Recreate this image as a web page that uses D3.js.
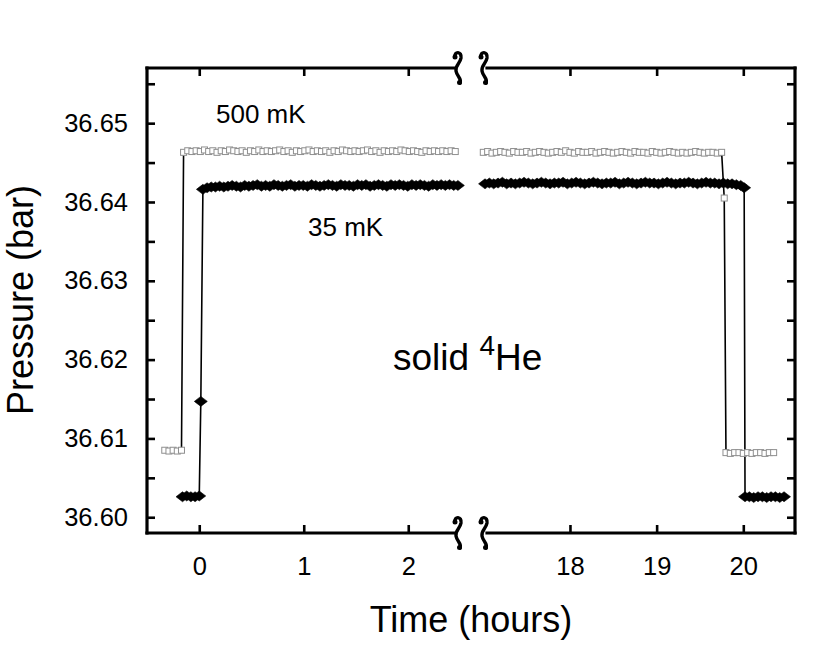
<!DOCTYPE html>
<html><head><meta charset="utf-8">
<script src="https://cdn.jsdelivr.net/npm/d3@7"></script>
<style>
body{margin:0;background:#fff;}
svg{display:block;}
text{font-family:"Liberation Sans",Arial,Helvetica,sans-serif;fill:#000;}
</style>
</head><body>
<svg id="chart" width="830" height="662"></svg>
<script>
// ---------------- data ----------------
const xTicksLeft = [0, 1, 2];
const xTicksRight = [18, 19, 20];
const yTicksMajor = [36.60, 36.61, 36.62, 36.63, 36.64, 36.65];
const yTicksMinor = [36.605, 36.615, 36.625, 36.635, 36.645, 36.655];

// 500 mK, before the break (time in hours, pressure in bar)
const t500L = [-0.33,-0.29,-0.25,-0.21,-0.17,
  -0.15,-0.11,-0.07,-0.03,0.01,0.05,0.09,0.13,0.17,0.21,0.25,0.29,0.33,0.37,0.41,0.45,0.49,0.53,0.57,0.61,
  0.65,0.69,0.73,0.77,0.81,0.85,0.89,0.93,0.97,1.01,1.05,1.09,1.13,1.17,1.21,1.25,1.29,1.33,1.37,1.41,
  1.45,1.49,1.53,1.57,1.61,1.65,1.69,1.73,1.77,1.81,1.85,1.89,1.93,1.97,2.01,2.05,2.09,2.13,2.17,2.21,
  2.25,2.29,2.33,2.37,2.41,2.45];
const p500L = [36.6085,36.6084,36.6085,36.6084,36.6085,
  36.6463,36.6465,36.6464,36.6465,36.6464,36.6466,36.6464,36.6465,36.6463,36.6465,
  36.6464,36.6466,36.6465,36.6464,36.6465,36.6463,36.6465,36.6464,36.6466,36.6464,
  36.6465,36.6464,36.6465,36.6466,36.6464,36.6465,36.6463,36.6465,36.6464,36.6465,
  36.6466,36.6464,36.6465,36.6464,36.6465,36.6463,36.6465,36.6464,36.6466,36.6465,
  36.6464,36.6465,36.6464,36.6465,36.6466,36.6464,36.6465,36.6463,36.6465,36.6464,
  36.6465,36.6464,36.6466,36.6465,36.6464,36.6465,36.6464,36.6463,36.6465,36.6464,
  36.6465,36.6464,36.6465,36.6464,36.6465,36.6464];

// 500 mK, after the break
const t500R = [17.00,17.05,17.10,17.15,17.20,17.25,17.30,17.35,17.40,17.45,17.50,17.55,17.60,17.65,17.70,
  17.75,17.80,17.85,17.90,17.95,18.00,18.05,18.10,18.15,18.20,18.25,18.30,18.35,18.40,18.45,18.50,18.55,
  18.60,18.65,18.70,18.75,18.80,18.85,18.90,18.95,19.00,19.05,19.10,19.15,19.20,19.25,19.30,19.35,19.40,
  19.45,19.50,19.55,19.60,19.65,19.70,19.75,
  19.78,
  19.80,19.85,19.90,19.95,20.00,20.05,20.10,20.15,20.20,20.25,20.30,20.35];
const p500R = [36.6463,36.6464,36.6462,36.6463,36.6464,36.6463,36.6462,36.6464,36.6463,36.6463,
  36.6464,36.6462,36.6463,36.6464,36.6463,36.6462,36.6463,36.6464,36.6463,36.6465,
  36.6463,36.6462,36.6464,36.6463,36.6463,36.6464,36.6462,36.6463,36.6464,36.6463,
  36.6462,36.6463,36.6464,36.6463,36.6462,36.6464,36.6463,36.6463,36.6462,36.6464,
  36.6463,36.6462,36.6463,36.6464,36.6463,36.6462,36.6463,36.6462,36.6463,36.6464,
  36.6463,36.6462,36.6463,36.6463,36.6462,36.6463,
  36.6405,
  36.6082,36.6081,36.6082,36.6082,36.6081,36.6082,36.6081,36.6082,36.6082,36.6081,36.6082,36.6082];

// 35 mK, before the break
const t35L = [-0.16,-0.12,-0.08,-0.04,0.00,
  0.015,
  0.035,0.075,0.115,0.155,0.195,0.235,0.275,0.315,0.355,0.395,0.435,0.475,0.515,0.555,0.595,0.635,0.675,
  0.715,0.755,0.795,0.835,0.875,0.915,0.955,0.995,1.035,1.075,1.115,1.155,1.195,1.235,1.275,1.315,1.355,
  1.395,1.435,1.475,1.515,1.555,1.595,1.635,1.675,1.715,1.755,1.795,1.835,1.875,1.915,1.955,1.995,2.035,
  2.075,2.115,2.155,2.195,2.235,2.275,2.315,2.355,2.395,2.435,2.475];
const p35L = [36.6026,36.6027,36.6026,36.6026,36.6027,
  36.6147,
  36.6416,36.6418,36.6419,36.6419,36.6420,36.6419,36.6420,36.6421,36.6420,36.6419,
  36.6421,36.6420,36.6421,36.6422,36.6420,36.6421,36.6420,36.6422,36.6421,36.6420,
  36.6421,36.6422,36.6420,36.6421,36.6421,36.6420,36.6422,36.6421,36.6420,36.6421,
  36.6422,36.6421,36.6420,36.6422,36.6421,36.6421,36.6420,36.6422,36.6421,36.6422,
  36.6420,36.6421,36.6422,36.6421,36.6420,36.6422,36.6421,36.6422,36.6421,36.6420,
  36.6422,36.6421,36.6422,36.6421,36.6420,36.6422,36.6421,36.6422,36.6421,36.6422,
  36.6421,36.6421];

// 35 mK, after the break
const t35R = [17.02,17.07,17.12,17.17,17.22,17.27,17.32,17.37,17.42,17.47,17.52,17.57,17.62,17.67,17.72,
  17.77,17.82,17.87,17.92,17.97,18.02,18.07,18.12,18.17,18.22,18.27,18.32,18.37,18.42,18.47,18.52,18.57,
  18.62,18.67,18.72,18.77,18.82,18.87,18.92,18.97,19.02,19.07,19.12,19.17,19.22,19.27,19.32,19.37,19.42,
  19.47,19.52,19.57,19.62,19.67,19.72,19.77,19.82,19.87,19.92,19.97,
  20.01,
  20.02,20.07,20.12,20.17,20.22,20.27,20.32,20.37,20.42,20.47];
const p35R = [36.6423,36.6424,36.6423,36.6424,36.6425,36.6423,36.6424,36.6423,36.6424,36.6425,
  36.6424,36.6423,36.6424,36.6425,36.6424,36.6423,36.6424,36.6424,36.6425,36.6423,
  36.6424,36.6425,36.6424,36.6423,36.6424,36.6425,36.6424,36.6423,36.6424,36.6424,
  36.6425,36.6423,36.6424,36.6425,36.6424,36.6423,36.6424,36.6425,36.6424,36.6424,
  36.6423,36.6424,36.6425,36.6424,36.6423,36.6424,36.6424,36.6425,36.6424,36.6423,
  36.6424,36.6425,36.6424,36.6424,36.6423,36.6424,36.6423,36.6423,36.6422,36.6421,
  36.6418,
  36.6026,36.6026,36.6025,36.6026,36.6026,36.6025,36.6026,36.6026,36.6025,36.6026];

// ---------------- layout ----------------
const X0 = 147, X1 = 795, Y0 = 68, Y1 = 533;
const BREAK_A = 458, BREAK_B = 484;

const svg = d3.select('#chart');

const xL = d3.scaleLinear().domain([-0.5, 2.48]).range([X0, 458.4]);
const xR = d3.scaleLinear().domain([17, 20.6]).range([483.3, 795.3]);
const y = d3.scaleLinear().domain([36.598, 36.657]).range([Y1, Y0]);

function styleAxis(g) {
  g.select('.domain').remove();
  g.selectAll('.tick line').attr('stroke', '#000').attr('stroke-width', 2.6);
  g.selectAll('.tick text').attr('font-size', 25.5).attr('font-family', '"Liberation Sans",Arial,sans-serif').attr('fill', '#000');
}

// y axes (left with labels, right without)
svg.append('g').attr('transform', `translate(${X0},0)`)
  .call(d3.axisLeft(y).tickValues(yTicksMajor).tickFormat(d3.format('.2f')).tickSize(-8).tickPadding(19))
  .call(styleAxis);
svg.append('g').attr('transform', `translate(${X0},0)`)
  .call(d3.axisLeft(y).tickValues(yTicksMinor).tickFormat('').tickSize(-8))
  .call(styleAxis);
svg.append('g').attr('transform', `translate(${X1},0)`)
  .call(d3.axisRight(y).tickValues(yTicksMajor.concat(yTicksMinor)).tickFormat('').tickSize(-8))
  .call(styleAxis);

// x axes (bottom with labels, top without)
[[xL, xTicksLeft], [xR, xTicksRight]].forEach(([sc, tv]) => {
  svg.append('g').attr('transform', `translate(0,${Y1})`)
    .call(d3.axisBottom(sc).tickValues(tv).tickFormat(d3.format('d')).tickSize(-8).tickPadding(24))
    .call(styleAxis);
  svg.append('g').attr('transform', `translate(0,${Y0})`)
    .call(d3.axisTop(sc).tickValues(tv).tickFormat('').tickSize(-8))
    .call(styleAxis);
});

// frame with axis breaks
const frame = svg.append('g').attr('stroke', '#000').attr('stroke-width', 3.2).attr('fill', 'none')
  .attr('stroke-linecap', 'square');
frame.append('line').attr('x1', X0).attr('x2', X0).attr('y1', Y0).attr('y2', Y1);
frame.append('line').attr('x1', X1).attr('x2', X1).attr('y1', Y0).attr('y2', Y1);
[Y0, Y1].forEach(yy => {
  frame.append('line').attr('x1', X0).attr('x2', BREAK_A - 3).attr('y1', yy).attr('y2', yy);
  frame.append('line').attr('x1', BREAK_B + 3).attr('x2', X1).attr('y1', yy).attr('y2', yy);
});
// break glyph: an elongated S with blobbed ends
const squig = 'M-3,-11 C-4,-17 4,-17 3,-10 C2,-4 -3,-3 -2,3 C-1,9 4,10 2,15';
[BREAK_A, BREAK_B].forEach(bx => {
  [Y0, Y1].forEach(by => {
    const g = svg.append('g').attr('transform', `translate(${bx},${by})`);
    g.append('path').attr('d', squig).attr('fill', 'none').attr('stroke', '#000')
      .attr('stroke-width', 3.4).attr('stroke-linecap', 'round');
    g.append('circle').attr('cx', -3).attr('cy', -11).attr('r', 2.5).attr('fill', '#000');
    g.append('circle').attr('cx', 1.5).attr('cy', 14.5).attr('r', 2.5).attr('fill', '#000');
  });
});

// ---------------- data marks ----------------
const series = [
  {t: t500L, p: p500L, x: xL, kind: 'sq'},
  {t: t500R, p: p500R, x: xR, kind: 'sq'},
  {t: t35L, p: p35L, x: xL, kind: 'di'},
  {t: t35R, p: p35R, x: xR, kind: 'di'}
];
const plot = svg.append('g');
series.forEach(s => {
  const pts = s.t.map((t, i) => [t, s.p[i]]);
  const line = d3.line().x(d => s.x(d[0])).y(d => y(d[1]));
  plot.append('path').datum(pts).attr('d', line).attr('fill', 'none')
    .attr('stroke', '#000').attr('stroke-width', 1.6);
});
series.filter(s => s.kind === 'sq').forEach(s => {
  const pts = s.t.map((t, i) => [t, s.p[i]]);
  plot.append('g').selectAll('rect').data(pts).join('rect')
    .attr('x', d => s.x(d[0]) - 3).attr('y', d => y(d[1]) - 3)
    .attr('width', 6).attr('height', 6)
    .attr('fill', '#fff').attr('stroke', '#8f8f8f').attr('stroke-width', 1);
});
series.filter(s => s.kind === 'di').forEach(s => {
  const pts = s.t.map((t, i) => [t, s.p[i]]);
  plot.append('g').selectAll('path').data(pts).join('path')
    .attr('d', 'M0,-5L6.5,0L0,5L-6.5,0Z')
    .attr('transform', d => `translate(${s.x(d[0])},${y(d[1])})`)
    .attr('fill', '#000').attr('stroke', '#000').attr('stroke-width', 0.6);
});

// ---------------- labels ----------------
svg.append('text').attr('x', 216).attr('y', 123).attr('font-size', 26).text('500 mK');
svg.append('text').attr('x', 308).attr('y', 236).attr('font-size', 26).text('35 mK');
const sol = svg.append('text').attr('x', 393).attr('y', 370).attr('font-size', 37);
sol.append('tspan').text('solid ');
sol.append('tspan').attr('font-size', 28).attr('dy', -15).text('4');
sol.append('tspan').attr('dy', 15).text('He');

svg.append('text').attr('x', 471).attr('y', 632).attr('font-size', 36)
  .attr('text-anchor', 'middle').text('Time (hours)');
svg.append('text').attr('transform', 'translate(33,300) rotate(-90)').attr('font-size', 36)
  .attr('text-anchor', 'middle').text('Pressure (bar)');
</script>
</body></html>
